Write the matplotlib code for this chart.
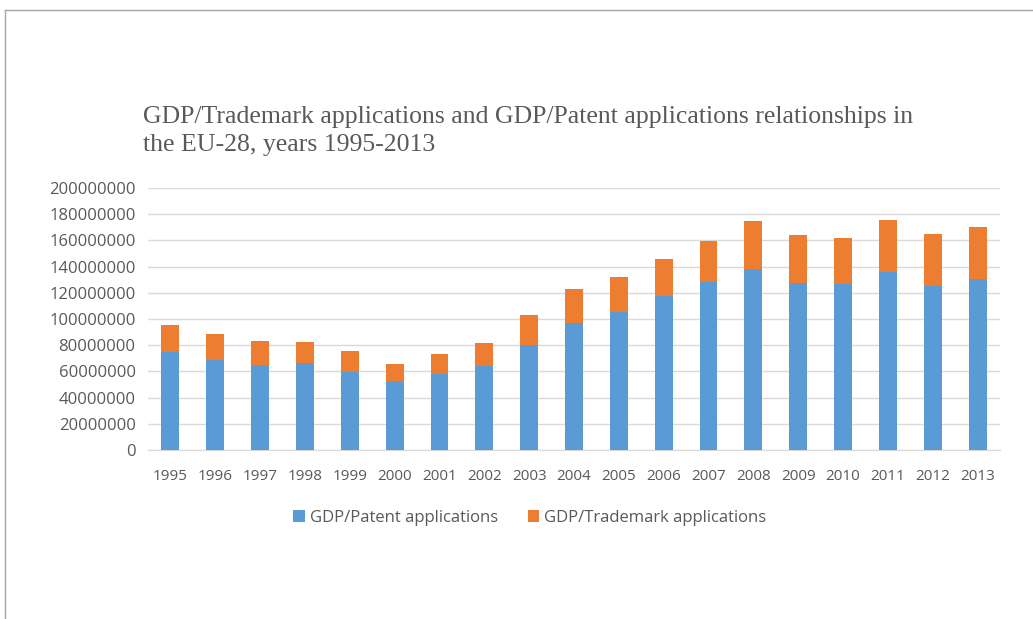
import matplotlib.pyplot as plt
import numpy as np
from matplotlib.lines import Line2D

years = [str(y) for y in range(1995, 2014)]
# in millions
totals = [95.1, 88.7, 83.4, 82.7, 75.9, 65.7, 73.3, 81.9, 102.9, 123.1,
          132.0, 145.9, 159.8, 174.7, 163.8, 162.1, 175.5, 164.6, 169.9]
patent = [74.8, 68.8, 64.7, 66.2, 59.4, 52.3, 57.9, 64.2, 80.2, 96.6,
          105.2, 117.8, 127.9, 138.1, 127.2, 126.4, 135.8, 125.4, 130.2]

patent = np.array(patent) * 1e6
trademark = np.array(totals) * 1e6 - patent

title = ("GDP/Trademark applications and GDP/Patent applications relationships in\n"
         "the EU-28, years 1995-2013")

blue = "#5b9bd5"
orange = "#ed7d31"
text_col = "#595959"

fig = plt.figure(figsize=(10.33, 6.19), dpi=100)
W, H = 1033, 619
ax = fig.add_axes([148 / W, 1 - 450 / H, (1000 - 148) / W, (450 - 188) / H])

x = np.arange(len(years))
ax.bar(x, patent, width=0.4, color=blue, label="GDP/Patent applications", zorder=3)
ax.bar(x, trademark, width=0.4, bottom=patent, color=orange,
       label="GDP/Trademark applications", zorder=3)

ax.set_xlim(-0.5, len(years) - 0.5)
ax.set_ylim(0, 200e6)
ax.set_yticks(np.arange(0, 200e6 + 1, 20e6))
ax.set_yticklabels([str(int(v)) for v in np.arange(0, 200e6 + 1, 20e6)])
ax.set_xticks(x)
ax.set_xticklabels(years)
ax.grid(axis="y", color="#d9d9d9", linewidth=1, zorder=0)
for s in ["top", "right", "left"]:
    ax.spines[s].set_visible(False)
ax.spines["bottom"].set_color("#d9d9d9")
ax.tick_params(length=0, colors=text_col)
ax.tick_params(axis="x", labelsize=11, pad=14)
ax.tick_params(axis="y", labelsize=12, pad=9)
for lab in ax.get_xticklabels() + ax.get_yticklabels():
    lab.set_family("Open Sans")

fig.text(143 / W, 1 - 106 / H, title, ha="left", va="top", family="Liberation Serif",
         fontsize=18.5, color=text_col, linespacing=1.35)

ax.legend(loc="center", bbox_to_anchor=(0.448, -0.26), ncol=2, frameon=False,
          prop={"family": "Open Sans", "size": 12}, labelcolor=text_col,
          handlelength=0.7, handleheight=0.7, handletextpad=0.3, columnspacing=1.8)

# outer frame of the source image (top and left edges)
fig.add_artist(Line2D([5 / W, 1], [1 - 10 / H, 1 - 10 / H], color="#a6a6a6", lw=1))
fig.add_artist(Line2D([5 / W, 5 / W], [0, 1 - 10 / H], color="#a6a6a6", lw=1))

fig.savefig("out.png", dpi=100)
